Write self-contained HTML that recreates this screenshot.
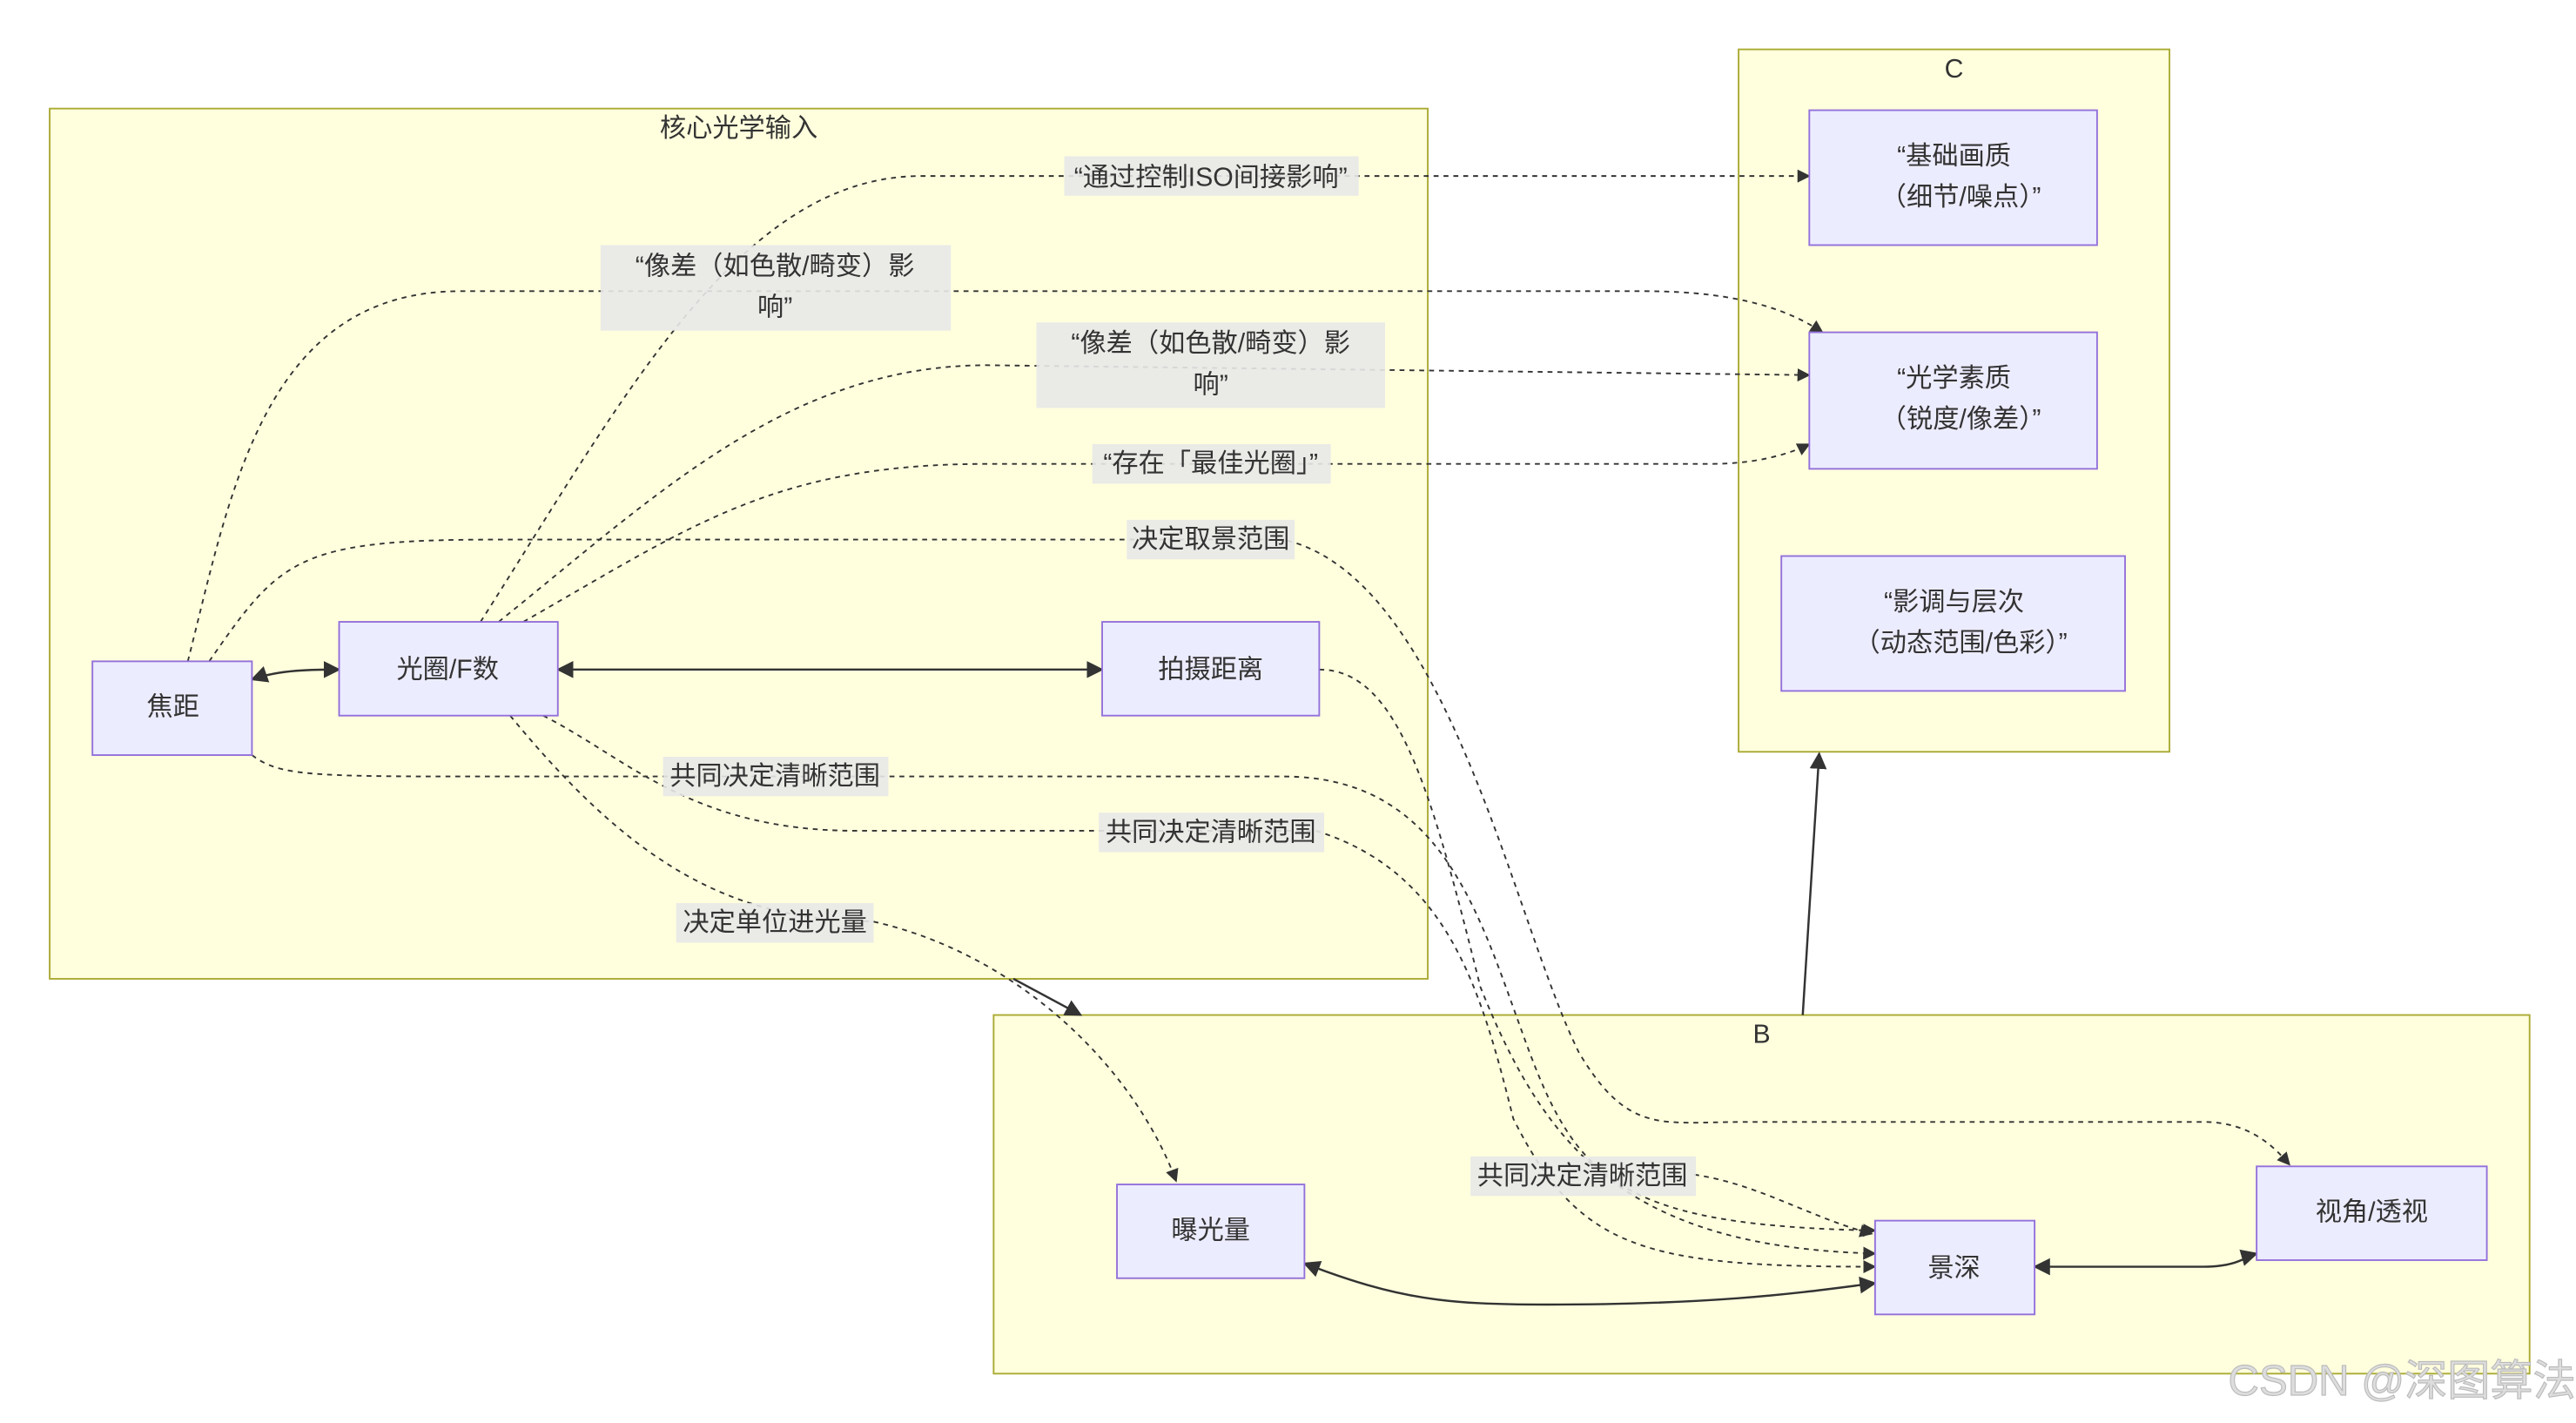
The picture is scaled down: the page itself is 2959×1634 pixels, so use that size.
<!DOCTYPE html>
<html><head><meta charset="utf-8"><style>
html,body{margin:0;padding:0;background:#fff;width:2959px;height:1634px;overflow:hidden}
svg{display:block}
text{font-family:"Liberation Sans","Noto Sans CJK SC",sans-serif;fill:#333;font-size:16px}
.c{fill:#ffffde;stroke:#aaaa33;stroke-width:1}
.n{fill:#ececff;stroke:#9370db;stroke-width:1}
.e{fill:none;stroke:#333;stroke-width:1;stroke-dasharray:3,3}
.s{fill:none;stroke:#333;stroke-width:1.3}
.l{fill:#e8e8e8;opacity:0.9}
</style></head><body>
<svg width="2959" height="1634" viewBox="0 0 1566 865" xmlns="http://www.w3.org/2000/svg">
<defs>
<marker id="a" viewBox="0 0 10 10" refX="9" refY="5" markerWidth="8" markerHeight="8" orient="auto-start-reverse"><path d="M0,0L10,5L0,10z" fill="#333"/></marker>
</defs>
<rect class="c" x="30" y="66" width="838" height="529"/>
<text x="449" y="83" text-anchor="middle">核心光学输入</text>
<rect class="c" x="1057" y="30" width="262" height="427"/>
<text x="1188" y="47" text-anchor="middle">C</text>
<rect class="c" x="604" y="617" width="934" height="218"/>
<text x="1071" y="634" text-anchor="middle">B</text>

<!-- edges -->
<path class="e" d="M292,378 C380,240 450,107 560,107 L1100,107" marker-end="url(#a)"/>
<path class="e" d="M114,402 C140,300 160,177 280,177 L1000,177 C1060,177 1090,190 1108,202" marker-end="url(#a)"/>
<path class="e" d="M303,378 C400,300 480,222 600,222 L1100,228" marker-end="url(#a)"/>
<path class="e" d="M318,378 C420,320 470,282 600,282 L1040,282 C1070,282 1090,275 1100,270" marker-end="url(#a)"/>
<path class="e" d="M127,402 C170,340 180,328 300,328 L780,328 C880,350 920,560 960,640 C990,690 1010,682 1060,682 L1340,682 C1370,682 1385,700 1392,708" marker-end="url(#a)"/>
<path class="e" d="M153,459 C170,472 190,472 300,472 L780,472 C880,472 900,560 930,640 C960,720 990,745 1140,748" marker-end="url(#a)"/>
<path class="e" d="M330,435 C380,460 420,505 520,505 L800,505 C880,530 900,600 920,680 C960,760 1000,770 1140,770" marker-end="url(#a)"/>
<path class="e" d="M802,407 C850,407 870,480 900,600 C940,700 990,758 1140,762" marker-end="url(#a)"/>
<path class="e" d="M310,435 C380,520 440,560 530,560 C620,580 690,650 715,718" marker-end="url(#a)"/>
<path class="e" d="M1030,714 C1070,720 1100,740 1138,750" marker-end="url(#a)"/>
<path class="s" d="M153,413 C170,407 190,407 206,407" marker-start="url(#a)" marker-end="url(#a)"/>
<path class="s" d="M339,407 L670,407" marker-start="url(#a)" marker-end="url(#a)"/>
<path class="s" d="M793,768 C850,790 880,793 940,793 C1050,793 1100,785 1140,780" marker-start="url(#a)" marker-end="url(#a)"/>
<path class="s" d="M1237,770 L1340,770 C1360,770 1365,764 1372,762" marker-start="url(#a)" marker-end="url(#a)"/>
<path class="s" d="M1096,617 L1106,458" marker-end="url(#a)"/>
<path class="s" d="M616,595 L657,617" marker-end="url(#a)"/>

<!-- labels -->
<rect class="l" x="647" y="95" width="179" height="24"/><text x="736" y="113" text-anchor="middle">“通过控制ISO间接影响”</text>
<rect class="l" x="365" y="149" width="213" height="52"/><text x="471" y="167" text-anchor="middle">“像差（如色散/畸变）影</text><text x="471" y="192" text-anchor="middle">响”</text>
<rect class="l" x="630" y="196" width="212" height="52"/><text x="736" y="214" text-anchor="middle">“像差（如色散/畸变）影</text><text x="736" y="239" text-anchor="middle">响”</text>
<rect class="l" x="664" y="270" width="145" height="24"/><text x="736" y="287" text-anchor="middle">“存在「最佳光圈」”</text>
<rect class="l" x="685" y="316" width="102" height="24"/><text x="736" y="333" text-anchor="middle">决定取景范围</text>
<rect class="l" x="403" y="460" width="137" height="24"/><text x="471" y="477" text-anchor="middle">共同决定清晰范围</text>
<rect class="l" x="668" y="494" width="137" height="24"/><text x="736" y="511" text-anchor="middle">共同决定清晰范围</text>
<rect class="l" x="411" y="549" width="120" height="24"/><text x="471" y="566" text-anchor="middle">决定单位进光量</text>
<rect class="l" x="894" y="703" width="137" height="24"/><text x="962" y="720" text-anchor="middle">共同决定清晰范围</text>

<!-- nodes -->
<rect class="n" x="56" y="402" width="97" height="57"/><text x="105" y="435" text-anchor="middle">焦距</text>
<rect class="n" x="206" y="378" width="133" height="57"/><text x="272" y="412" text-anchor="middle">光圈/F数</text>
<rect class="n" x="670" y="378" width="132" height="57"/><text x="736" y="412" text-anchor="middle">拍摄距离</text>
<rect class="n" x="1100" y="67" width="175" height="82"/><text x="1188" y="100" text-anchor="middle">“基础画质</text><text x="1192" y="125" text-anchor="middle">（细节/噪点）”</text>
<rect class="n" x="1100" y="202" width="175" height="83"/><text x="1188" y="235" text-anchor="middle">“光学素质</text><text x="1192" y="260" text-anchor="middle">（锐度/像差）”</text>
<rect class="n" x="1083" y="338" width="209" height="82"/><text x="1188" y="371" text-anchor="middle">“影调与层次</text><text x="1192" y="396" text-anchor="middle">（动态范围/色彩）”</text>
<rect class="n" x="679" y="720" width="114" height="57"/><text x="736" y="753" text-anchor="middle">曝光量</text>
<rect class="n" x="1140" y="742" width="97" height="57"/><text x="1188" y="776" text-anchor="middle">景深</text>
<rect class="n" x="1372" y="709" width="140" height="57"/><text x="1442" y="742" text-anchor="middle">视角/透视</text>
<text x="1566" y="848" text-anchor="end" style="font-size:26px;fill:#ddd;stroke:#bbb;stroke-width:0.6">CSDN @深图算法</text>
</svg>
</body></html>
